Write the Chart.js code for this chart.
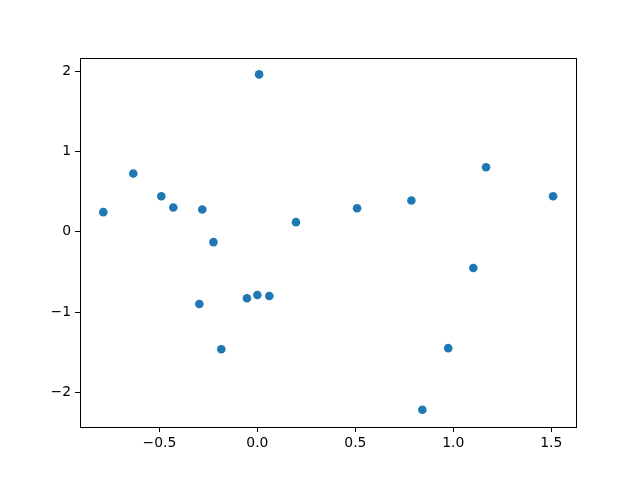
<!DOCTYPE html>
<html>
<head>
<meta charset="utf-8">
<script src="https://cdn.jsdelivr.net/npm/chart.js@4"></script>
<style>
  html, body { margin: 0; padding: 0; background: #fff; }
</style>
</head>
<body>
<canvas id="scatter" width="640" height="480"></canvas>
<script>
// scatter values
const xValues = [-0.786, -0.633, -0.490, -0.429, -0.281, -0.224, -0.296, -0.184, -0.053, 0.000,
                 0.061, 0.009, 0.197, 0.509, 0.786, 0.842, 0.974, 1.102, 1.167, 1.509];
const yValues = [0.245, 0.725, 0.443, 0.303, 0.278, -0.128, -0.898, -1.461, -0.827, -0.786,
                 -0.799, 1.959, 0.120, 0.294, 0.390, -2.215, -1.448, -0.451, 0.804, 0.443];
const xTicks = [-0.5, 0.0, 0.5, 1.0, 1.5];
const yTicks = [-2, -1, 0, 1, 2];

const points = xValues.map((x, i) => ({ x: x, y: yValues[i] }));

// box round the plot area like matplotlib's spines
const frame = {
  id: 'frame',
  afterDraw(chart) {
    const a = chart.chartArea, c = chart.ctx;
    c.save();
    c.strokeStyle = '#000';
    c.lineWidth = 1;
    c.strokeRect(Math.round(a.left) + 0.5, Math.round(a.top) + 0.5,
                 Math.round(a.right - a.left), Math.round(a.bottom - a.top));
    c.restore();
  }
};

const tickFont = { family: 'DejaVu Sans', size: 13.9 };

new Chart(document.getElementById('scatter').getContext('2d'), {
  type: 'scatter',
  data: {
    datasets: [{
      data: points,
      backgroundColor: '#1f77b4',
      borderColor: '#1f77b4',
      pointRadius: 4.3,
      pointHoverRadius: 4.3,
      borderWidth: 0
    }]
  },
  options: {
    responsive: false,
    animation: false,
    layout: { padding: { left: 0, right: 64, top: 58, bottom: 0 } },
    plugins: { legend: { display: false }, tooltip: { enabled: false } },
    scales: {
      x: {
        type: 'linear',
        min: -0.905,
        max: 1.626,
        afterBuildTicks: s => { s.ticks = xTicks.map(v => ({ value: v })); },
        afterFit: s => { s.height = 53; },
        grid: { display: true, drawOnChartArea: false, drawTicks: true, tickLength: 5, color: '#000' },
        border: { display: true, color: '#000' },
        ticks: { color: '#000', font: tickFont, padding: 3, maxRotation: 0,
                 callback: v => v.toFixed(1).replace('-', '\u2212') }
      },
      y: {
        type: 'linear',
        min: -2.429,
        max: 2.163,
        afterBuildTicks: s => { s.ticks = yTicks.map(v => ({ value: v })); },
        afterFit: s => { s.width = 80; },
        grid: { display: true, drawOnChartArea: false, drawTicks: true, tickLength: 5, color: '#000' },
        border: { display: true, color: '#000' },
        ticks: { color: '#000', font: tickFont, padding: 4,
                 callback: v => String(v).replace('-', '\u2212') }
      }
    }
  },
  plugins: [frame]
});
</script>
</body>
</html>
